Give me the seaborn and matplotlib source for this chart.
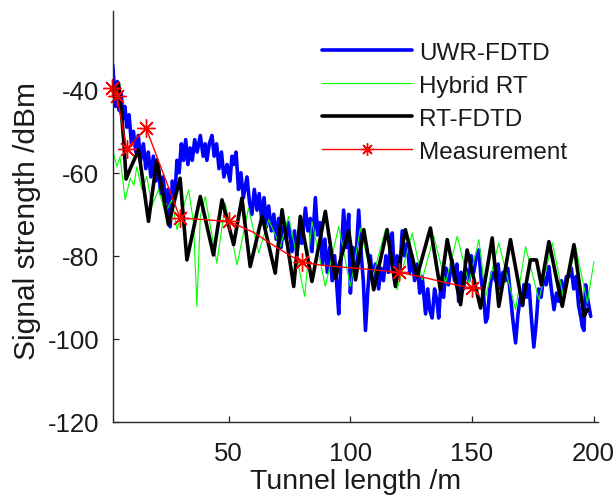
import numpy as np
import pandas as pd
import seaborn as sns
import matplotlib.pyplot as plt

# UWR-FDTD (blue, thick)
uwr_x = [2.3, 3.0, 3.5, 4.2, 5.0, 5.8, 6.5, 7.3, 8.1, 9.0, 10.0, 10.8, 11.8, 12.8, 13.8, 14.9,
         15.9, 16.9, 18.0, 19.0, 20.0, 21.0, 22.0, 23.0, 24.0, 25.0, 25.9, 26.8, 27.8, 28.7,
         29.6, 30.5, 31.4, 32.3, 33.2, 34.1, 35.0, 36.0, 37.0, 38.3, 39.5, 40.3, 41.0, 42.0,
         43.1, 44.0, 45.0, 46.0, 47.0, 48.0, 49.3, 50.5, 51.3, 52.0, 53.0, 54.0, 55.0, 56.0,
         57.5, 58.5, 59.5, 60.5, 61.6, 62.5, 63.5, 64.5, 65.5, 66.4, 67.5, 68.5, 69.5, 70.5,
         71.5, 72.5, 73.5, 74.5, 76.0, 77.0, 78.0, 79.0, 80.0, 81.5, 82.5, 83.5, 84.2, 85.6,
         86.5, 87.5, 88.5, 89.5, 90.5, 91.5, 92.5, 93.5, 94.5, 95.2, 96.2, 97.2, 98.3, 99.3,
         100.0, 101.0, 102.0, 103.4, 104.5, 105.3, 106.2, 107.2, 108.2, 109.2, 110.3, 111.6,
         112.6, 113.6, 114.6, 115.6, 116.4, 117.2, 118.2, 119.2, 120.3, 121.3, 122.3, 123.4,
         124.4, 125.4, 126.4, 127.5, 128.5, 129.5, 130.9, 131.8, 132.6, 133.6, 134.6, 135.6,
         136.3, 137.3, 138.3, 139.3, 140.3, 141.8, 142.8, 143.8, 144.5, 145.5, 146.5, 147.5,
         148.7, 149.7, 150.7, 151.8, 152.8, 153.8, 154.8, 155.6, 156.3, 157.3, 158.3, 159.7,
         160.7, 161.7, 162.7, 163.7, 164.7, 165.7, 166.7, 167.9, 168.9, 169.9, 170.8, 171.3,
         172.4, 173.4, 174.4, 175.4, 176.4, 177.4, 178.4, 179.4, 180.5, 181.6, 182.6, 183.7,
         184.7, 185.7, 186.7, 187.8, 188.8, 189.8, 190.8, 191.8, 192.8, 193.8, 194.8, 195.3,
         196.0, 196.7, 197.7, 198.8]
uwr_y = [-34, -40, -44, -38, -45, -41, -47, -44, -49, -46, -53, -50, -55, -51, -57, -53,
         -59, -55, -61, -56, -62, -58, -65, -61, -67, -64, -73, -62, -66, -57,
         -60, -53, -57, -52, -58, -54, -57, -52, -55, -51, -56, -53, -57, -53,
         -51, -56, -53, -59, -55, -61, -58, -62, -56, -58, -55, -64, -60, -66,
         -61, -67, -70, -64, -69, -65, -71, -66, -73, -68, -74, -70, -76, -71,
         -78, -73, -76, -72, -79, -74, -80, -74, -77, -68.5, -74, -71, -79, -66,
         -75, -72, -82, -76, -84, -78, -86, -80, -88, -94, -80, -69, -78, -70,
         -89, -78, -84, -69, -80, -86, -98, -88, -80, -86, -82, -88,
         -83, -86, -80, -84, -78, -74.5, -86, -80, -84, -74, -80, -77,
         -84, -80, -86, -82, -89, -85, -94, -88, -93, -95, -88, -91,
         -95, -86, -90, -83, -87, -81, -86, -82, -91, -84, -88, -83,
         -86, -80, -84, -80, -78.6, -86, -90, -96, -95, -88, -84, -86,
         -82, -88, -84, -86, -83, -89, -95, -101, -94, -90, -92, -87,
         -90, -87, -95, -102, -96, -88, -90, -85, -87, -82.6, -88, -93,
         -89, -91, -86, -89, -85, -85, -83, -88, -85, -92, -95, -97,
         -98, -87, -91, -94.6]

# Hybrid RT (green, thin)
hyb_x = [1.9, 4.0, 5.3, 7.4, 9.5, 11.0, 12.2, 14.3, 16.3, 18.4, 21.1, 23.9, 26.6, 28.7, 31.4,
         33.5, 35.5, 36.9, 38.3, 40.3, 45.1, 48.6, 53.4, 58.1, 62.3, 66.4, 71.2, 74.6, 81.2,
         84.2, 89.7, 95.2, 100.0, 104.1, 108.9, 114.4, 119.2, 125.4, 129.5, 134.3, 139.1,
         143.9, 148.7, 152.8, 155.6, 161.0, 167.9, 172.0, 177.5, 183.0, 187.8, 192.6, 197.4,
         200.1]
hyb_y = [-53.7, -58.5, -56.1, -66.5, -61.3, -63, -58.5, -64.1, -60.9, -68.1, -64.1, -69.7,
         -66.5, -73.7, -68.1, -64.1, -72, -92.2, -70.5, -65.7, -81.8, -67.3, -82.2, -68.5,
         -79.3, -71.3, -77.8, -70.5, -89.8, -71.7, -87.4, -72.9, -87.4, -73.3, -85.8, -73.7,
         -88.2, -74.5, -85.8, -75.3, -86.6, -75.3, -86.6, -76.1, -89.8, -76.9, -93.0, -77.8,
         -90.6, -76.9, -90.6, -77.8, -91.4, -81.4]

# RT-FDTD (black, thick)
rt_x = [3.5, 4.7, 6.0, 6.8, 7.8, 9.5, 12.9, 17.0, 20.4, 25.2, 30.0, 32.8, 38.3, 43.7, 47.2,
        52.0, 55.4, 58.8, 63.7, 69.1, 71.9, 76.7, 79.4, 84.2, 89.7, 93.8, 99.3, 102.1, 105.5,
        109.6, 115.1, 118.5, 122.6, 127.4, 132.9, 137.0, 139.8, 145.3, 148.0, 153.5, 158.3,
        161.0, 165.8, 170.7, 174.0, 176.5, 178.5, 181.6, 187.1, 191.9, 196.0, 197.4]
rt_y = [-42, -38.4, -46.4, -52, -61.5, -59, -54.5, -71.7, -56.9, -72.5, -61.3, -81.0, -65.7,
        -79.8, -66.5, -77.3, -66.1, -82.6, -70.5, -84.2, -68.9, -87.4, -70.5, -86.2, -69.3,
        -85.4, -73.9, -85.8, -73.7, -88.2, -73.7, -87.4, -73.7, -85.0, -73.3, -88.2, -76.1,
        -91.8, -78.6, -92.6, -75.7, -92.2, -76.1, -91.8, -81.0, -81.0, -87, -76.6, -92.2,
        -77.3, -94.6, -93.0]

# Measurement (red line, stars at measured points)
meas_x = [2, 4, 8, 16, 30, 40, 50, 60, 70, 80, 90, 100, 110, 120, 130, 140, 150, 154]
meas_y = [-39.5, -41.4, -54.2, -49.2, -70.9, -71.3, -71.7, -74.3, -78.1, -81.6, -82.4, -82.9,
          -83.4, -84.0, -85.2, -86.6, -87.8, -87.7]
meas_star = [0, 1, 2, 3, 4, 6, 9, 13, 16]

sns.set_theme(style='ticks')
plt.rcParams['font.family'] = ['Liberation Sans', 'DejaVu Sans']
plt.rcParams['axes.unicode_minus'] = False

fig = plt.figure(figsize=(6.14, 5.02), dpi=100)
ax = fig.add_axes([0.184, 0.158, 0.790, 0.818])

sns.lineplot(x=uwr_x, y=uwr_y, ax=ax, color='#0000ff', lw=2.6, label='UWR-FDTD',
             estimator=None, sort=False)
sns.lineplot(x=hyb_x, y=hyb_y, ax=ax, color='#00ff00', lw=0.8, label='Hybrid RT',
             estimator=None, sort=False)
sns.lineplot(x=rt_x, y=rt_y, ax=ax, color='black', lw=2.6, label='RT-FDTD',
             estimator=None, sort=False)
sns.lineplot(x=meas_x, y=meas_y, ax=ax, color='#ff0000', lw=1.0, label='Measurement',
             estimator=None, sort=False, marker=(8, 2, 0), markersize=13, mew=1.0,
             mec='#ff0000', mfc='#ff0000', markevery=meas_star, clip_on=False)

ax.set_xlim(2.4, 201.8)
ax.set_ylim(-120, -21)
ax.set_xticks([50, 100, 150, 200])
ax.set_yticks([-120, -100, -80, -60, -40])
ax.tick_params(direction='in', length=4, width=0.9, color='#262626',
               labelsize=18.5, labelcolor='#1a1a1a')
ax.tick_params(axis='x', pad=14)
ax.tick_params(axis='y', pad=10)
for s in ['left', 'bottom']:
    ax.spines[s].set_linewidth(1.0)
    ax.spines[s].set_color('#262626')
sns.despine(ax=ax)

ax.set_xlabel('Tunnel length /m', fontsize=20.5, color='#1a1a1a')
ax.set_ylabel('Signal strength /dBm', fontsize=21.5, color='#1a1a1a')
ax.xaxis.set_label_coords(0.5, -0.112)
ax.yaxis.set_label_coords(-0.148, 0.49)

leg = ax.legend(loc='upper left', bbox_to_anchor=(0.431, 0.925), frameon=False,
                fontsize=17.5, handlelength=3.7, handletextpad=0.3, labelspacing=0.45,
                borderpad=0, borderaxespad=0)
for t in leg.get_texts():
    t.set_color('#1a1a1a')
leg.legend_handles[3].set_markersize(9)

fig.savefig('out.png', dpi=100)
